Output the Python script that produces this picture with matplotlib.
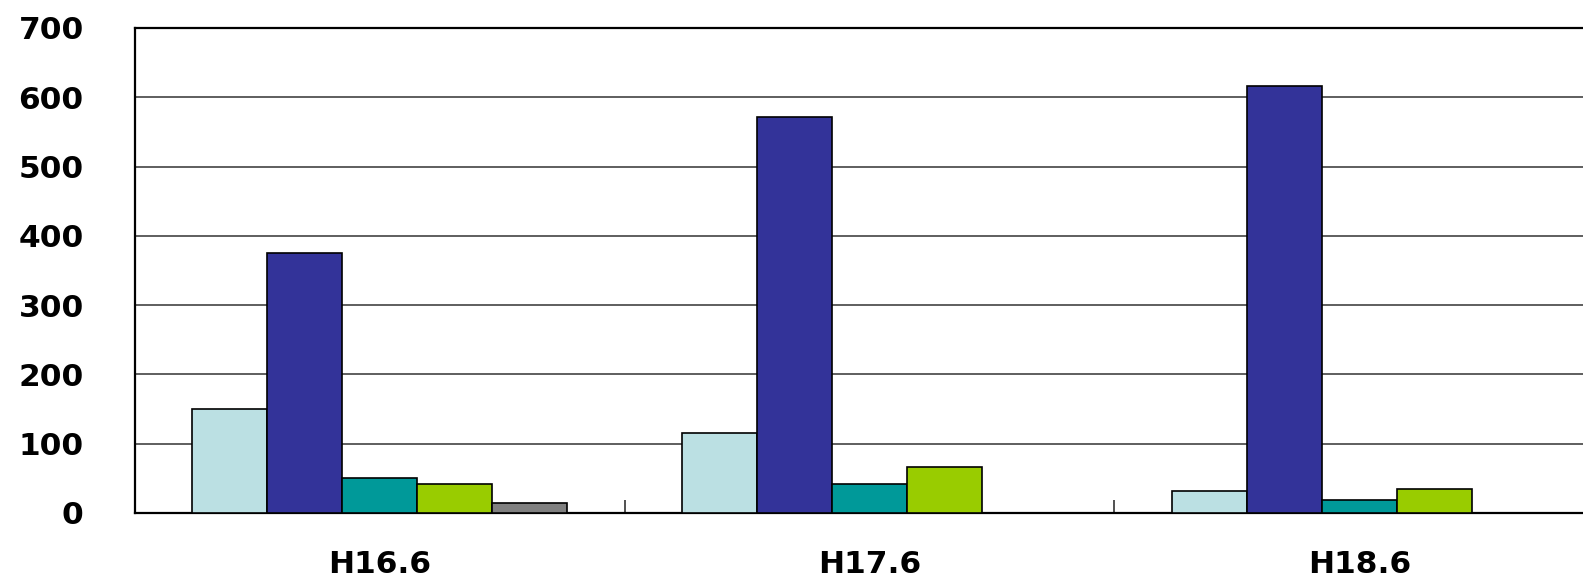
import numpy as np
import matplotlib
matplotlib.use("Agg")
from matplotlib import pyplot as plt

# survey periods and the five series per period
periods = ["H16.6", "H17.6", "H18.6"]
s1 = [150, 115, 31]
s2 = [375, 572, 616]
s3 = [50, 42, 19]
s4 = [42, 67, 34]
s5 = [15, 0, 0]
series = [s1, s2, s3, s4, s5]
colors = ["#BBE0E3", "#333399", "#009999", "#99CC00", "#808080"]

y_ticks = [0, 100, 200, 300, 400, 500, 600, 700]

plt.rcParams["font.family"] = ["DejaVu Sans"]
plt.rcParams["font.weight"] = "bold"

fig = plt.figure(figsize=(15.83, 5.82), dpi=100)
# right edge of the plot area runs past the figure
ax = fig.add_axes([0.0853, 0.1186, 0.928, 0.8333])

x = np.arange(len(periods))
width = 0.1532
for i, (vals, c) in enumerate(zip(series, colors)):
    pos = x - 2 * width + i * width
    vals = np.array(vals, dtype=float)
    keep = vals > 0
    ax.bar(pos[keep], vals[keep], width=width, color=c,
           edgecolor="black", linewidth=1.2, zorder=3)

ax.set_xlim(-0.5, 2.5)
ax.set_ylim(0, 700)
ax.set_yticks(y_ticks)
ax.set_yticklabels([str(v) for v in y_ticks], fontsize=22.5, fontweight="bold")
ax.tick_params(axis="y", length=0, pad=37)

ax.set_xticks(x)
ax.set_xticklabels(periods, fontsize=22.5, fontweight="bold")
ax.set_xticks([0.5, 1.5], minor=True)
ax.tick_params(axis="x", which="major", length=0, pad=27)
ax.tick_params(axis="x", which="minor", direction="in", length=9.5,
               width=1.2, color="#333333")

ax.grid(axis="y", color="#333333", linewidth=1.1, zorder=0)
for side in ["left", "bottom", "top", "right"]:
    ax.spines[side].set_linewidth(1.6)
    ax.spines[side].set_color("black")

fig.savefig("out.png", dpi=100)
